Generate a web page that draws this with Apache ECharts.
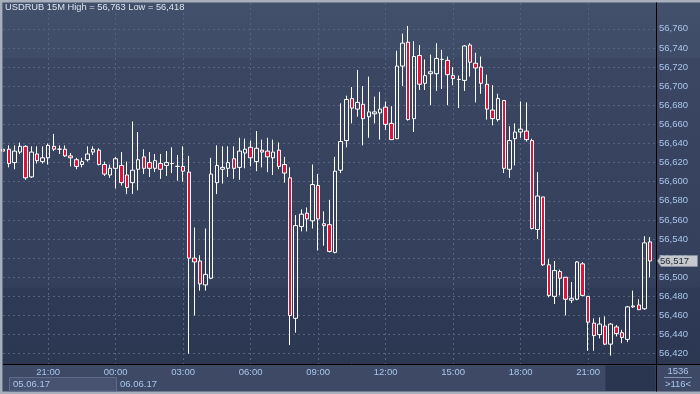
<!DOCTYPE html>
<html><head><meta charset="utf-8">
<script src="https://cdn.jsdelivr.net/npm/echarts@6/dist/echarts.min.js"></script>
<style>html,body{margin:0;padding:0;background:#3d4965;}#c{width:700px;height:394px;}</style>
</head><body><div id="c"></div>
<script>
const symbolName = 'USDRUB';
const periodName = '15M';
const startMinutes = 19 * 60;      // first bar: 05.06.17 19:00
const barMinutes = 15;
const barCount = 116;
const dateLabels = ['05.06.17', '06.06.17'];
const statusTop = '1536';
const statusBottom = '>116<';

const opens = [56.634,56.634,56.620,56.631,56.637,56.605,56.629,56.621,56.625,56.637,
56.634,56.634,56.627,56.623,56.618,56.623,56.631,56.633,56.618,56.607,
56.614,56.617,56.607,56.599,56.613,56.626,56.620,56.614,56.619,56.617,
56.619,56.616,56.616,56.610,56.520,56.517,56.492,56.499,56.599,56.613,
56.614,56.624,56.615,56.630,56.636,56.621,56.633,56.632,56.625,56.633,
56.618,56.604,56.457,56.553,56.567,56.559,56.596,56.556,56.555,56.526,
56.612,56.643,56.687,56.676,56.681,56.668,56.671,56.672,56.678,56.661,
56.645,56.721,56.746,56.666,56.732,56.703,56.713,56.713,56.728,56.727,
56.711,56.707,56.706,56.743,56.724,56.720,56.702,56.675,56.665,56.685,
56.613,56.645,56.652,56.653,56.643,56.550,56.584,56.513,56.480,56.506,
56.500,56.476,56.477,56.514,56.480,56.452,56.440,56.449,56.430,56.448,
56.442,56.435,56.469,56.471,56.467,56.537];
const highs = [56.635,56.638,56.638,56.641,56.638,56.637,56.637,56.637,56.640,56.650,
56.638,56.638,56.630,56.625,56.625,56.637,56.637,56.635,56.621,56.618,
56.626,56.631,56.621,56.663,56.652,56.634,56.631,56.629,56.629,56.632,
56.636,56.628,56.637,56.627,56.552,56.523,56.551,56.625,56.638,56.637,
56.637,56.637,56.646,56.645,56.643,56.653,56.644,56.646,56.644,56.641,
56.626,56.615,56.565,56.571,56.573,56.618,56.608,56.569,56.581,56.626,
56.682,56.690,56.699,56.717,56.700,56.710,56.689,56.694,56.684,56.679,
56.737,56.755,56.763,56.747,56.743,56.728,56.733,56.745,56.738,56.731,
56.720,56.711,56.743,56.745,56.735,56.731,56.712,56.701,56.692,56.685,
56.658,56.661,56.684,56.683,56.645,56.610,56.584,56.519,56.517,56.508,
56.500,56.495,56.517,56.516,56.480,56.457,56.458,56.459,56.452,56.450,
56.445,56.470,56.486,56.477,56.543,56.542];
const lows = [56.631,56.615,56.613,56.629,56.602,56.604,56.619,56.619,56.618,56.632,
56.629,56.626,56.616,56.613,56.615,56.621,56.628,56.617,56.606,56.604,
56.593,56.596,56.587,56.587,56.591,56.608,56.605,56.610,56.603,56.606,
56.609,56.601,56.600,56.420,56.460,56.486,56.486,56.498,56.587,56.598,
56.605,56.603,56.602,56.614,56.616,56.611,56.615,56.610,56.607,56.613,
56.599,56.429,56.442,56.548,56.548,56.551,56.528,56.533,56.526,56.525,
56.609,56.636,56.661,56.668,56.638,56.646,56.661,56.644,56.654,56.644,
56.645,56.700,56.664,56.652,56.696,56.696,56.680,56.695,56.697,56.680,
56.701,56.677,56.695,56.710,56.683,56.692,56.665,56.659,56.663,56.609,
56.604,56.617,56.646,56.642,56.550,56.540,56.512,56.479,56.472,56.481,
56.460,56.473,56.476,56.480,56.423,56.423,56.436,56.429,56.418,56.438,
56.431,56.432,56.468,56.466,56.466,56.500];
const closes = [56.632,56.619,56.632,56.637,56.604,56.631,56.622,56.625,56.638,56.634,
56.634,56.627,56.625,56.616,56.621,56.629,56.634,56.618,56.608,56.614,
56.624,56.599,56.594,56.612,56.623,56.614,56.614,56.622,56.613,56.620,
56.619,56.616,56.611,56.520,56.516,56.493,56.503,56.608,56.617,56.615,
56.620,56.614,56.632,56.634,56.625,56.635,56.631,56.626,56.631,56.616,
56.609,56.460,56.554,56.566,56.561,56.597,56.561,56.554,56.527,56.611,
56.642,56.686,56.677,56.683,56.666,56.673,56.673,56.676,56.660,56.644,
56.721,56.745,56.665,56.731,56.702,56.711,56.715,56.729,56.728,56.712,
56.708,56.707,56.742,56.725,56.719,56.703,56.676,56.666,56.687,56.614,
56.643,56.652,56.655,56.644,56.551,56.585,56.513,56.481,56.507,56.499,
56.477,56.478,56.516,56.481,56.453,56.439,56.451,56.430,56.451,56.441,
56.437,56.469,56.470,56.466,56.536,56.517];

const yTickMin = 56.42, yTickMax = 56.76, yTickStep = 0.02;

// category labels (bar open times)
const categories = [];
for (let i = 0; i < barCount; i++) {
  const m = startMinutes + i * barMinutes;
  const h = Math.floor(m / 60) % 24, mm = m % 60;
  categories.push(String(h).padStart(2, '0') + ':' + String(mm).padStart(2, '0'));
}
const candles = opens.map((o, i) => [o, closes[i], lows[i], highs[i]]);
const fmt = v => Number(v).toFixed(3).replace('.', ',');
const lastIdx = barCount - 1;
const hiAll = Math.max(...highs), loAll = Math.min(...lows);
const isMajor = (idx, val) => /^\d\d:00$/.test(val) && (+val.slice(0, 2)) % 3 === 0;

const FONT = 'Liberation Sans';
const LBL = '#a9c6ea';
const GRIDC = '#56627e';

const chart = echarts.init(document.getElementById('c'), null, {renderer: 'canvas'});
chart.setOption({
  animation: false,
  backgroundColor: 'transparent',
  title: {
    text: symbolName + ' ' + periodName + ' High = ' + fmt(hiAll) + ' Low = ' + fmt(loAll),
    left: 5, top: 3, padding: 0,
    textStyle: {color: '#dde3ec', fontSize: 9.3, fontWeight: 'normal', fontFamily: FONT}
  },
  grid: [
    {left: 3.125, right: 50, top: 3, bottom: 30, containLabel: false},
    {left: 3, right: 44, top: 28.8, bottom: 40.3, containLabel: false}
  ],
  xAxis: [
    {
      type: 'category', gridIndex: 0, data: categories, boundaryGap: false,
      axisLine: {show: false}, axisTick: {show: false},
      axisLabel: {interval: isMajor, color: LBL, fontSize: 9.5, fontFamily: FONT, margin: 3},
      splitLine: {show: true, interval: isMajor, lineStyle: {color: GRIDC, type: [2, 3], width: 1}}
    },
    {type: 'value', gridIndex: 1, min: 0, max: 1, show: false}
  ],
  yAxis: [
    {type: 'value', gridIndex: 0, min: 56.40922, max: 56.787, show: false},
    {
      type: 'value', gridIndex: 1, position: 'right',
      min: yTickMin, max: yTickMax, interval: yTickStep,
      axisLine: {show: false}, axisTick: {show: false},
      axisLabel: {color: LBL, fontSize: 9.5, fontFamily: FONT, margin: 3, formatter: fmt},
      splitLine: {show: true, lineStyle: {color: GRIDC, type: [2, 3], width: 1}}
    }
  ],
  series: [{
    type: 'candlestick', xAxisIndex: 0, yAxisIndex: 0, data: candles,
    barWidth: 4, clip: false, silent: true,
    itemStyle: {color: 'transparent', color0: '#dc143c', borderColor: '#ffffff', borderColor0: '#ffffff', borderColorDoji: '#ffffff', borderWidth: 1},
    markPoint: {
      silent: true,
      symbol: 'path://M0,5.5 L3.5,0 L40,0 L40,11 L3.5,11 Z',
      symbolSize: [40, 11], symbolOffset: [27.5, 0],
      itemStyle: {color: '#c5c9ce', borderColor: '#8e96a4', borderWidth: 0.5},
      label: {show: true, color: '#1c2230', fontSize: 9.5, fontFamily: FONT, offset: [-3, 0], formatter: p => fmt(p.value)},
      data: [{coord: [lastIdx, closes[lastIdx]], value: closes[lastIdx]}]
    }
  }],
  graphic: [
    {type: 'rect', z: -10, silent: true, shape: {x: 0, y: 0, width: 700, height: 394}, style: {fill: '#a7afbc'}},
    {type: 'rect', z: -9, silent: true, shape: {x: 3, y: 2.5, width: 697, height: 362},
      style: {fill: new echarts.graphic.LinearGradient(0, 0, 0, 1, [
        {offset: 0, color: '#42506b'}, {offset: 0.153, color: '#3f4c67'},
        {offset: 0.154, color: '#3a4662'}, {offset: 0.787, color: '#333f5b'},
        {offset: 0.788, color: '#2f3b56'}, {offset: 1, color: '#2c3752'}])}},
    {type: 'rect', z: -9, silent: true, shape: {x: 3, y: 364.5, width: 697, height: 27}, style: {fill: '#3d4965'}},
    {type: 'rect', z: -8, silent: true, shape: {x: 9.5, y: 377.5, width: 107, height: 13.5}, style: {fill: '#465270', stroke: '#5d6986', lineWidth: 1}},
    {type: 'rect', z: -8, silent: true, shape: {x: 605.5, y: 365.5, width: 50, height: 25.5}, style: {fill: '#2a3550'}},
    {type: 'line', z: 20, silent: true, shape: {x1: 2.5, y1: 2.5, x2: 2.5, y2: 391.5}, style: {stroke: '#6b7587', lineWidth: 1}},
    {type: 'line', z: 20, silent: true, shape: {x1: 3, y1: 364.5, x2: 700, y2: 364.5}, style: {stroke: '#000000', lineWidth: 1}},
    {type: 'line', z: 20, silent: true, shape: {x1: 656.5, y1: 2.5, x2: 656.5, y2: 391.5}, style: {stroke: '#000000', lineWidth: 1}},
    {type: 'line', z: 20, silent: true, shape: {x1: 664, y1: 377.5, x2: 692, y2: 377.5}, style: {stroke: '#7f93b3', lineWidth: 1}},
    {type: 'text', z: 20, silent: true, style: {x: 13, y: 384.5, text: dateLabels[0], fill: LBL, font: '9.5px "' + FONT + '"', textVerticalAlign: 'middle', verticalAlign: 'middle'}},
    {type: 'text', z: 20, silent: true, style: {x: 120, y: 384.5, text: dateLabels[1], fill: LBL, font: '9.5px "' + FONT + '"', textVerticalAlign: 'middle', verticalAlign: 'middle'}},
    {type: 'text', z: 20, silent: true, style: {x: 678, y: 371.5, text: statusTop, fill: LBL, font: '9.5px "' + FONT + '"', align: 'center', textAlign: 'center', verticalAlign: 'middle', textVerticalAlign: 'middle'}},
    {type: 'text', z: 20, silent: true, style: {x: 678, y: 384.5, text: statusBottom, fill: LBL, font: '9.5px "' + FONT + '"', align: 'center', textAlign: 'center', verticalAlign: 'middle', textVerticalAlign: 'middle'}}
  ]
});
</script>
</body></html>
